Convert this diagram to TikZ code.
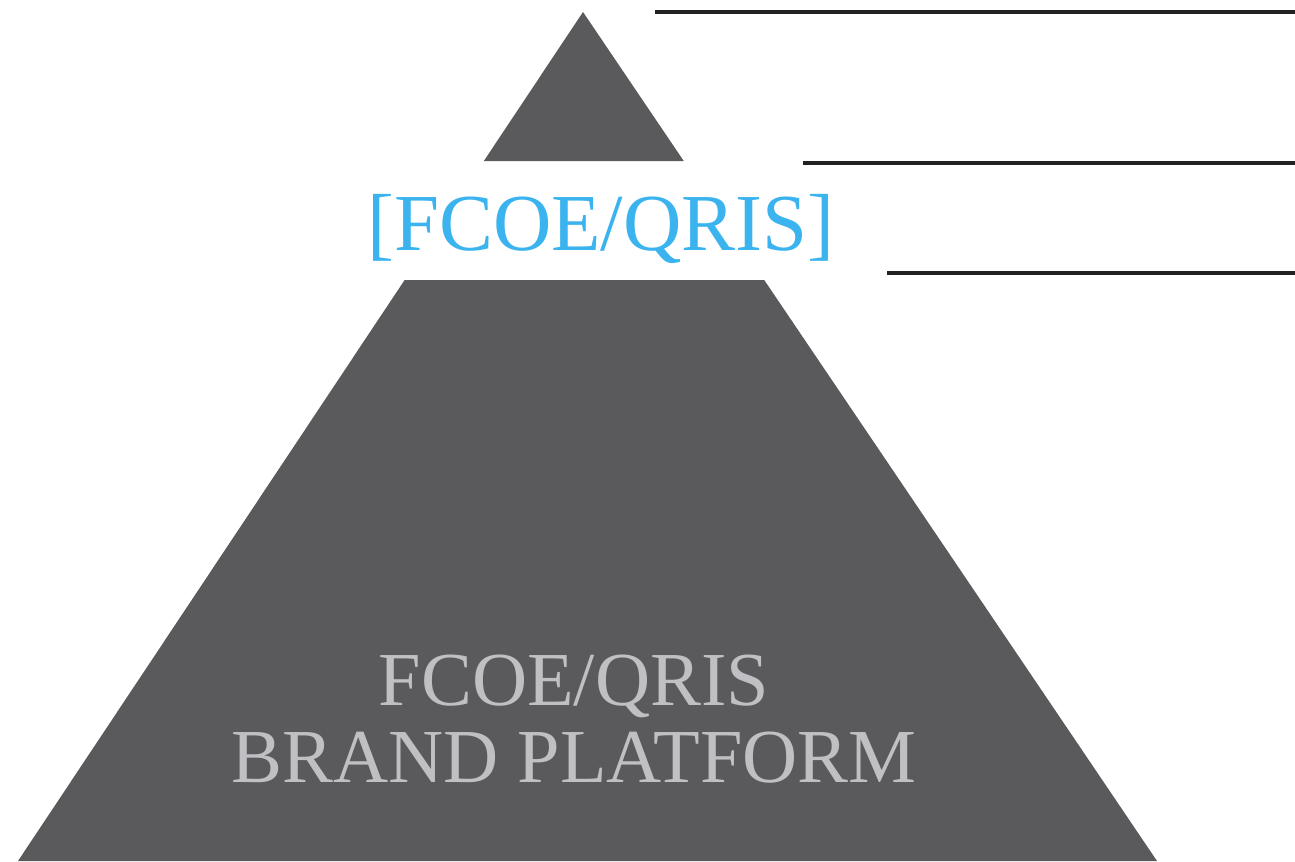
\documentclass[tikz,border=0pt]{standalone}
\usepackage{fontspec}
\setmainfont{Liberation Serif}
\usetikzlibrary{calc}
\definecolor{pyrgray}{HTML}{5A5A5C}
\definecolor{capblue}{HTML}{3BB3EF}
\definecolor{labelgray}{HTML}{C0C0C4}
\definecolor{rulegray}{HTML}{222222}
\def\TopCut{0.1755}
\def\MidCut{0.3157}

\begin{document}
\begin{tikzpicture}[x=0.01cm,y=-0.01cm]
\useasboundingbox (0,0) rectangle (1295,861);

\coordinate (apex) at (583,12);
\coordinate (bl) at (18,861);
\coordinate (br) at (1157,861);

% apex of the pyramid
\fill[pyrgray] (apex) -- ($(apex)!\TopCut!(bl)$) -- ($(apex)!\TopCut!(br)$) -- cycle;
% base of the pyramid
\fill[pyrgray] ($(apex)!\MidCut!(bl)$) -- (bl) -- (br) -- ($(apex)!\MidCut!(br)$) -- cycle;

% rules on the right
\draw[rulegray, line width=0.9pt] (655,12) -- (1295,12);
\draw[rulegray, line width=0.9pt] (803,163) -- (1295,163);
\draw[rulegray, line width=0.9pt] (887,273) -- (1295,273);

\node[text=capblue, font=\fontsize{23}{28}\selectfont] (cap) at (601,229) {[FCOE/QRIS]};
\node[text=labelgray, font=\fontsize{21.7}{21.8}\selectfont, align=center] (base) at (574,719) {FCOE/QRIS\\BRAND PLATFORM};
\end{tikzpicture}
\end{document}
